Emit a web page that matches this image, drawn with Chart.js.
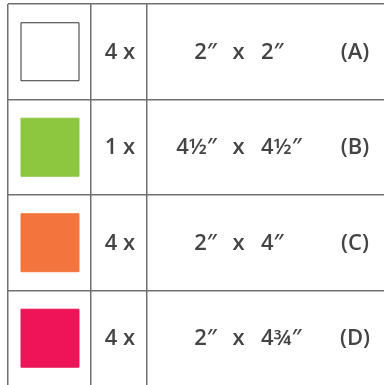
<!DOCTYPE html>
<html>
<head>
<meta charset="utf-8">
<script src="https://cdn.jsdelivr.net/npm/chart.js@4/dist/chart.umd.min.js"></script>
<style>
  html, body { margin: 0; padding: 0; background: #fff; }
  #wrap { width: 384px; height: 385px; }
</style>
</head>
<body>
<div id="wrap"><canvas id="pieces"></canvas></div>
<script>
// table contents
const quantities = ['4 x', '1 x', '4 x', '4 x'];
const widths = ['2″', '4½″', '2″', '2″'];
const heights = ['2″', '4½″', '4″', '4¾″'];
const pieceLabels = ['(A)', '(B)', '(C)', '(D)'];
const swatchColors = ['#FFFFFF', '#8DC63F', '#F2753E', '#ED1457'];
const swatchBorders = ['#333333', '#8DC63F', '#F2753E', '#ED1457'];
const rows = [0, 1, 2, 3];

// table geometry (x in px-like units, y in row units)
const colLines = [8, 91, 147];
const rowLines = [-0.5, 0.5, 1.5, 2.5];
const swatchX = 50;
const qtyX = 120, widthX = 217, timesX = 238.5, heightX = 261, labelX = 355;

const textPlugin = {
  id: 'tableText',
  afterDatasetsDraw(chart) {
    const { ctx, scales: { x, y } } = chart;
    ctx.save();
    ctx.fillStyle = '#444444';
    ctx.font = "600 22px 'Open Sans'";
    ctx.textBaseline = 'middle';
    rows.forEach(function(r, i) {
      const py = y.getPixelForValue(r) + 1;
      ctx.textAlign = 'center';
      ctx.fillText(quantities[i], x.getPixelForValue(qtyX), py);
      ctx.fillText('x', x.getPixelForValue(timesX), py);
      ctx.fillText(pieceLabels[i], x.getPixelForValue(labelX), py);
      ctx.textAlign = 'right';
      ctx.fillText(widths[i], x.getPixelForValue(widthX), py);
      ctx.textAlign = 'left';
      ctx.fillText(heights[i], x.getPixelForValue(heightX), py);
    });
    ctx.restore();
  }
};

const grid = { color: '#707070', lineWidth: 1.5, drawTicks: false };

new Chart(document.getElementById('pieces').getContext('2d'), {
  type: 'scatter',
  data: {
    datasets: [{
      data: rows.map(r => ({ x: swatchX, y: r })),
      pointStyle: 'rect',
      pointRadius: 41,
      backgroundColor: swatchColors,
      borderColor: swatchBorders,
      borderWidth: 1,
      clip: false
    }]
  },
  options: {
    responsive: true,
    maintainAspectRatio: false,
    animation: false,
    events: [],
    layout: { padding: { left: 8, top: 4, right: 0, bottom: 0 }, autoPadding: false },
    plugins: { legend: { display: false }, tooltip: { enabled: false } },
    scales: {
      x: {
        type: 'linear', min: 8, max: 384,
        grid: grid,
        border: { display: false },
        ticks: { display: false },
        afterBuildTicks: s => { s.ticks = colLines.map(v => ({ value: v })); }
      },
      y: {
        type: 'linear', reverse: true, min: -0.5, max: 3.49,
        grid: grid,
        border: { display: false },
        ticks: { display: false },
        afterBuildTicks: s => { s.ticks = rowLines.map(v => ({ value: v })); }
      }
    }
  },
  plugins: [textPlugin]
});
</script>
</body>
</html>
